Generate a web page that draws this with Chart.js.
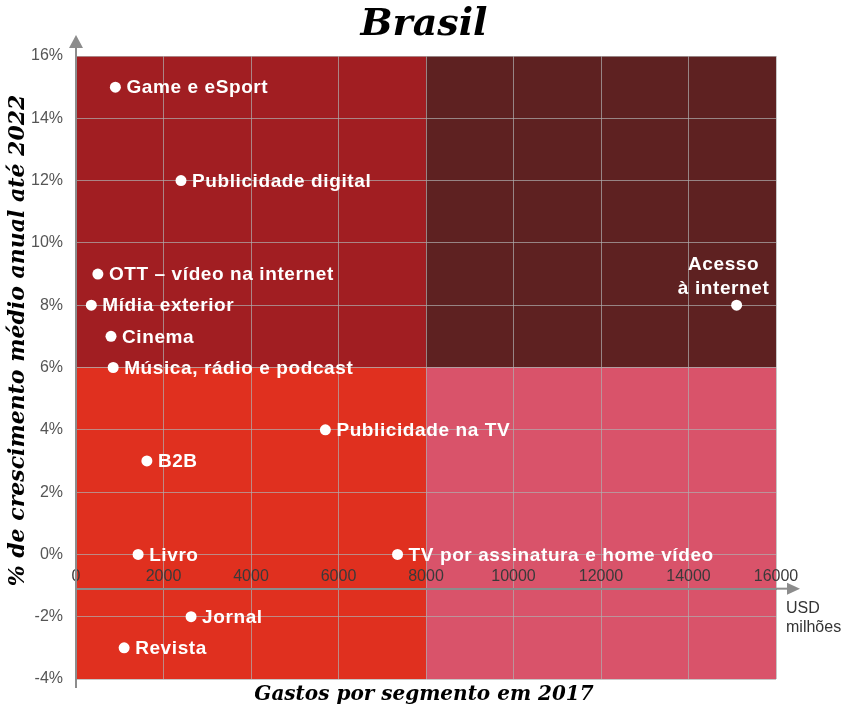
<!DOCTYPE html>
<html lang="pt">
<head>
<meta charset="utf-8">
<title>Brasil</title>
<script src="https://cdn.jsdelivr.net/npm/chart.js@4/dist/chart.umd.min.js"></script>
<style>
  html, body { margin: 0; padding: 0; background: #fff; }
  #wrap { width: 848px; height: 725px; }
</style>
</head>
<body>
<div id="wrap"><canvas id="quadChart" width="848" height="725"></canvas></div>
<script>
// segmentos e valores
const segments = [
  "Game e eSport",
  "Publicidade digital",
  "OTT – vídeo na internet",
  "Mídia exterior",
  "Cinema",
  "Música, rádio e podcast",
  "Acesso\nà internet",
  "Publicidade na TV",
  "B2B",
  "Livro",
  "TV por assinatura e home vídeo",
  "Jornal",
  "Revista"
];
const spending2017 = [900, 2400, 500, 350, 800, 850, 15100, 5700, 1620, 1420, 7350, 2630, 1100];
const growthTo2022 = [15, 12, 9, 8, 7, 6, 8, 4, 3, 0, 0, -2, -3];

const xTicks = [0, 2000, 4000, 6000, 8000, 10000, 12000, 14000, 16000];
const yTicks = [-4, -2, 0, 2, 4, 6, 8, 10, 12, 14, 16];
const xSplit = 8000;
const ySplit = 6;
const xAxisAt = -1.1;
const yTitle = "% de crescimento médio anual até 2022";

const serif = '"DejaVu Serif", "Liberation Serif", serif';
const sans = '"Liberation Sans", Arial, sans-serif';

const quadrants = {
  id: "quadrants",
  beforeDraw(chart) {
    const { ctx, chartArea: a, scales: { x, y } } = chart;
    const xs = x.getPixelForValue(xSplit);
    const ys = y.getPixelForValue(ySplit);
    ctx.save();
    ctx.fillStyle = "#a11e22";
    ctx.fillRect(a.left, a.top, xs - a.left, ys - a.top);
    ctx.fillStyle = "#5e2121";
    ctx.fillRect(xs, a.top, a.right - xs, ys - a.top);
    ctx.fillStyle = "#e0301f";
    ctx.fillRect(a.left, ys, xs - a.left, a.bottom - ys);
    ctx.fillStyle = "#d9536a";
    ctx.fillRect(xs, ys, a.right - xs, a.bottom - ys);
    ctx.restore();
  }
};

const pointLabels = {
  id: "pointLabels",
  afterDatasetsDraw(chart) {
    const ctx = chart.ctx;
    const meta = chart.getDatasetMeta(0);
    ctx.save();
    ctx.fillStyle = "#fff";
    ctx.font = "bold 19px " + sans;
    ctx.letterSpacing = "0.6px";
    ctx.textBaseline = "middle";
    meta.data.forEach((pt, i) => {
      const lines = segments[i].split("\n");
      if (lines.length > 1) {
        ctx.textAlign = "center";
        lines.forEach((ln, j) => {
          ctx.fillText(ln, pt.x - 13, pt.y - 16 - (lines.length - 1 - j) * 24);
        });
      } else {
        ctx.textAlign = "left";
        ctx.fillText(lines[0], pt.x + 11, pt.y + 1);
      }
    });
    ctx.restore();
  }
};

const axisArrows = {
  id: "axisArrows",
  afterDraw(chart) {
    const { ctx, chartArea: a, scales: { y } } = chart;
    const ax = a.left;
    const ay = y.getPixelForValue(xAxisAt);
    ctx.save();
    ctx.strokeStyle = "#8c8c8c";
    ctx.fillStyle = "#8c8c8c";
    ctx.lineWidth = 2;
    // eixo y: prolonga para cima e um pouco para baixo
    ctx.beginPath();
    ctx.moveTo(ax, a.bottom + 9);
    ctx.lineTo(ax, a.top - 8);
    ctx.stroke();
    ctx.beginPath();
    ctx.moveTo(ax, a.top - 21);
    ctx.lineTo(ax - 7, a.top - 8);
    ctx.lineTo(ax + 7, a.top - 8);
    ctx.closePath();
    ctx.fill();
    // eixo x: prolonga até a seta
    ctx.beginPath();
    ctx.moveTo(a.right, ay);
    ctx.lineTo(a.right + 12, ay);
    ctx.stroke();
    ctx.beginPath();
    ctx.moveTo(a.right + 24, ay);
    ctx.lineTo(a.right + 11, ay - 6);
    ctx.lineTo(a.right + 11, ay + 6);
    ctx.closePath();
    ctx.fill();
    // unidade
    ctx.fillStyle = "#333";
    ctx.font = "16px " + sans;
    ctx.textAlign = "left";
    ctx.textBaseline = "middle";
    ctx.fillText("USD", a.right + 10, ay + 20);
    ctx.fillText("milhões", a.right + 10, ay + 39);
    // título do eixo y
    ctx.translate(18, (a.top + a.bottom) / 2 - 27);
    ctx.rotate(-Math.PI / 2);
    ctx.fillStyle = "#000";
    ctx.font = "italic bold 22px " + serif;
    ctx.textAlign = "center";
    ctx.fillText(yTitle, 0, 0);
    ctx.restore();
  }
};

new Chart(document.getElementById("quadChart"), {
  type: "scatter",
  data: {
    datasets: [{
      data: spending2017.map((v, i) => ({ x: v, y: growthTo2022[i] })),
      pointRadius: 5.5,
      pointHoverRadius: 5.5,
      pointBackgroundColor: "#fff",
      pointBorderWidth: 0
    }]
  },
  options: {
    responsive: false,
    animation: false,
    layout: { padding: 0 },
    plugins: {
      legend: { display: false },
      tooltip: { enabled: false },
      title: {
        display: true,
        text: "Brasil",
        color: "#000",
        font: { family: serif, size: 38, style: "italic", weight: "bold" },
        padding: { top: 2, bottom: 8.4 }
      },
      subtitle: {
        display: true,
        position: "bottom",
        text: "Gastos por segmento em 2017",
        color: "#000",
        font: { family: serif, size: 20, style: "italic", weight: "bold" },
        padding: { top: 4, bottom: 18 }
      }
    },
    scales: {
      x: {
        type: "linear",
        axis: "x",
        position: { y: xAxisAt },
        min: xTicks[0],
        max: xTicks[xTicks.length - 1],
        afterBuildTicks: s => { s.ticks = xTicks.map(v => ({ value: v })); },
        ticks: {
          padding: -22,
          color: "#3a3a3a",
          font: { family: sans, size: 16 },
          maxRotation: 0,
          callback: v => String(v)
        },
        grid: { color: "rgba(175,175,175,0.7)", lineWidth: 1, drawTicks: false },
        border: { color: "#8c8c8c", width: 2 }
      },
      y: {
        type: "linear",
        position: "left",
        min: yTicks[0],
        max: yTicks[yTicks.length - 1],
        afterBuildTicks: s => { s.ticks = yTicks.map(v => ({ value: v })); },
        afterFit: s => { s.width = 76; },
        ticks: {
          padding: 13,
          color: "#555",
          font: { family: sans, size: 16 },
          callback: v => v + "%"
        },
        grid: { color: "rgba(175,175,175,0.7)", lineWidth: 1, drawTicks: false },
        border: { color: "#8c8c8c", width: 2 }
      },
      yR: {
        type: "linear",
        axis: "y",
        position: "right",
        min: yTicks[0],
        max: yTicks[yTicks.length - 1],
        afterFit: s => { s.width = 72; },
        ticks: { display: false },
        grid: { display: false },
        border: { display: false }
      }
    }
  },
  plugins: [quadrants, pointLabels, axisArrows]
});
</script>
</body>
</html>
